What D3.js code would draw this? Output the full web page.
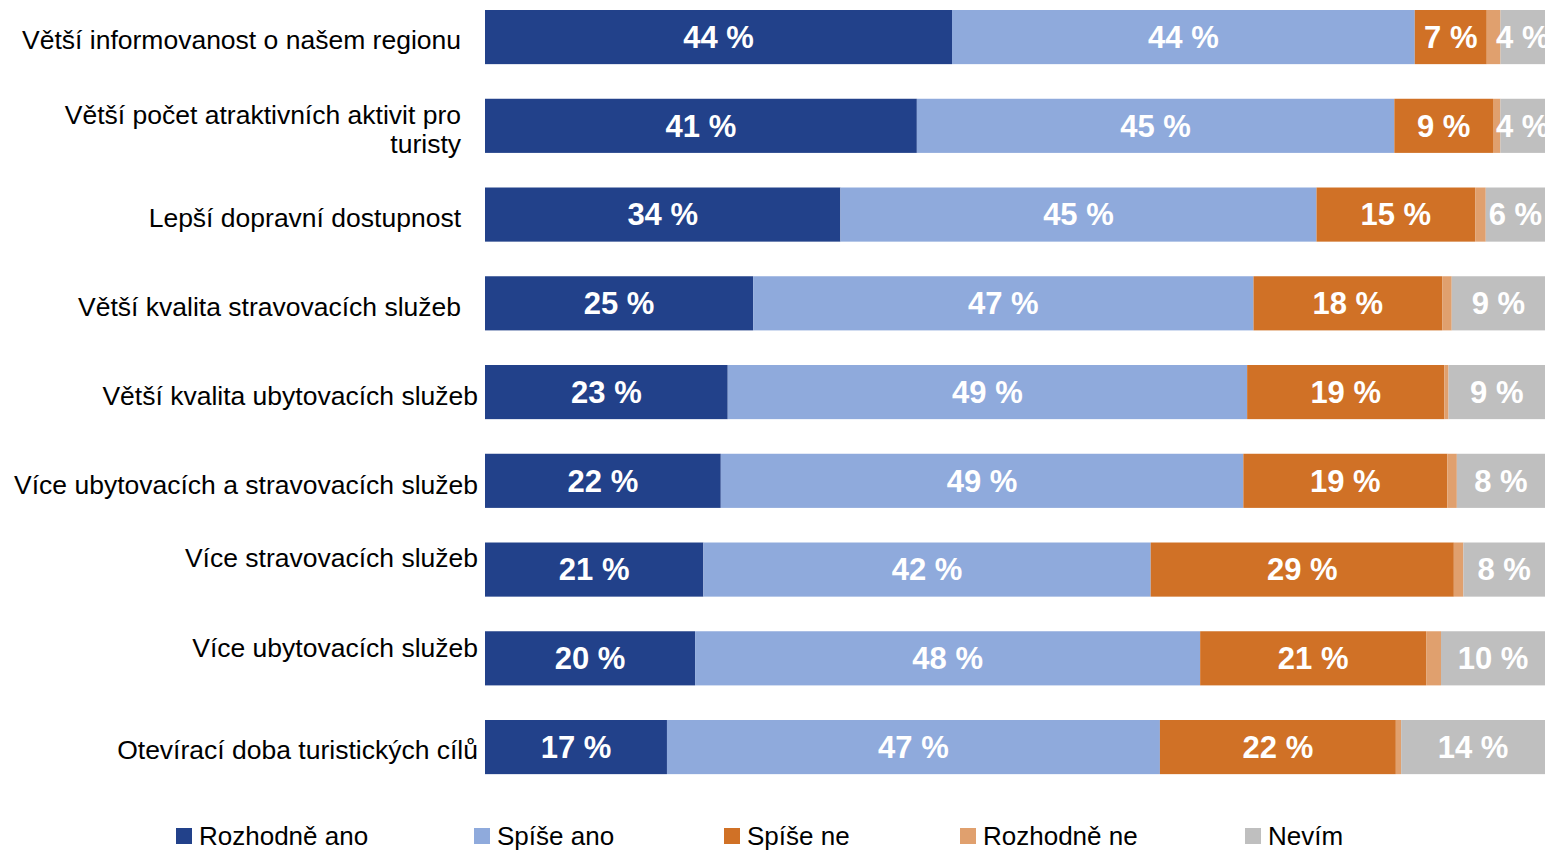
<!DOCTYPE html>
<html><head><meta charset="utf-8">
<script src="https://cdn.jsdelivr.net/npm/d3@7"></script>
<style>html,body{margin:0;padding:0;background:#fff;overflow:hidden}svg{display:block}</style>
</head><body>
<svg id="c" width="1548" height="852"></svg>
<script>
const categories = [
  ["Větší informovanost o našem regionu"],
  ["Větší počet atraktivních aktivit pro", "turisty"],
  ["Lepší dopravní dostupnost"],
  ["Větší kvalita stravovacích služeb"],
  ["Větší kvalita ubytovacích služeb"],
  ["Více ubytovacích a stravovacích služeb"],
  ["Více stravovacích služeb"],
  ["Více ubytovacích služeb"],
  ["Otevírací doba turistických cílů"]
];
const seriesNames = ["Rozhodně ano", "Spíše ano", "Spíše ne", "Rozhodně ne", "Nevím"];
const rozhodneAno = [44.1, 40.7, 33.6, 25.3, 22.9, 22.2, 20.6, 19.8, 17.2];
const spiseAno    = [43.7, 45.0, 45.0, 47.2, 49.0, 49.2, 42.2, 47.6, 46.6];
const spiseNe     = [6.8, 9.3, 15.0, 17.8, 18.6, 19.2, 28.6, 21.3, 22.3];
const rozhodneNe  = [1.3, 0.7, 1.0, 0.9, 0.4, 0.9, 0.9, 1.4, 0.5];
const nevim       = [4.2, 4.2, 5.6, 8.8, 9.1, 8.3, 7.7, 9.8, 13.6];
const showLabel   = [true, true, true, false, true];

// layout constants
const colors = ["#22418a", "#8faadc", "#d07126", "#e0a06e", "#bfbfbf"];
const labelRight = [461, 461, 461, 461, 478, 478, 478, 478, 478];
const labelDy    = [3, 3, 3, 3, 4, 4, -12, -11, 3];
const legendX    = [176, 474, 724, 960, 1245];

const svg = d3.select("#c");
const seriesArr = [rozhodneAno, spiseAno, spiseNe, rozhodneNe, nevim];
const rows = categories.map((c, i) => {
  const o = {i};
  seriesNames.forEach((s, k) => o[s] = seriesArr[k][i]);
  return o;
});
const x = d3.scaleLinear().domain([0, 1]).range([485, 1545]);
const y = d3.scaleBand().domain(d3.range(categories.length))
  .range([-7.3, -7.3 + 9 * 88.75]).paddingInner(0.39).paddingOuter(0.195);

const stack = d3.stack().keys(seriesNames).offset(d3.stackOffsetExpand);
const stacked = stack(rows);

const g = svg.append("g");
stacked.forEach((layer, k) => {
  const lg = g.append("g");
  lg.selectAll("rect").data(layer).join("rect")
    .attr("x", d => x(d[0]))
    .attr("y", (d, i) => y(i))
    .attr("width", d => x(d[1]) - x(d[0]))
    .attr("height", y.bandwidth())
    .attr("fill", colors[k]);
  if (showLabel[k]) {
    lg.selectAll("text").data(layer).join("text")
      .attr("x", d => (x(d[0]) + x(d[1])) / 2)
      .attr("y", (d, i) => y(i) + y.bandwidth() / 2)
      .attr("dy", "0.35em")
      .attr("text-anchor", "middle")
      .attr("font-family", "Liberation Sans, Arial, sans-serif")
      .attr("font-weight", "bold")
      .attr("font-size", 31)
      .attr("fill", "#fff")
      .text((d, i) => Math.round(seriesArr[k][i]) + " %");
  }
});

// category labels
const cl = svg.append("g").attr("font-family", "Liberation Sans, Arial, sans-serif")
  .attr("font-size", 26.5).attr("fill", "#000").attr("text-anchor", "end");
categories.forEach((lines, i) => {
  const cy = y(i) + y.bandwidth() / 2 + labelDy[i];
  const t = cl.append("text").attr("x", labelRight[i]).attr("y", cy);
  const n = lines.length;
  lines.forEach((ln, j) => {
    t.append("tspan").attr("x", labelRight[i])
      .attr("y", cy + (j - (n - 1) / 2) * 29)
      .attr("dy", "0.35em").text(ln);
  });
});

// legend
const lg = svg.append("g").attr("font-family", "Liberation Sans, Arial, sans-serif").attr("font-size", 26);
seriesNames.forEach((s, k) => {
  lg.append("rect").attr("x", legendX[k]).attr("y", 828).attr("width", 16).attr("height", 16).attr("fill", colors[k]);
  lg.append("text").attr("x", legendX[k] + 23).attr("y", 836).attr("dy", "0.35em").attr("fill", "#000").text(s);
});
</script>
</body></html>
